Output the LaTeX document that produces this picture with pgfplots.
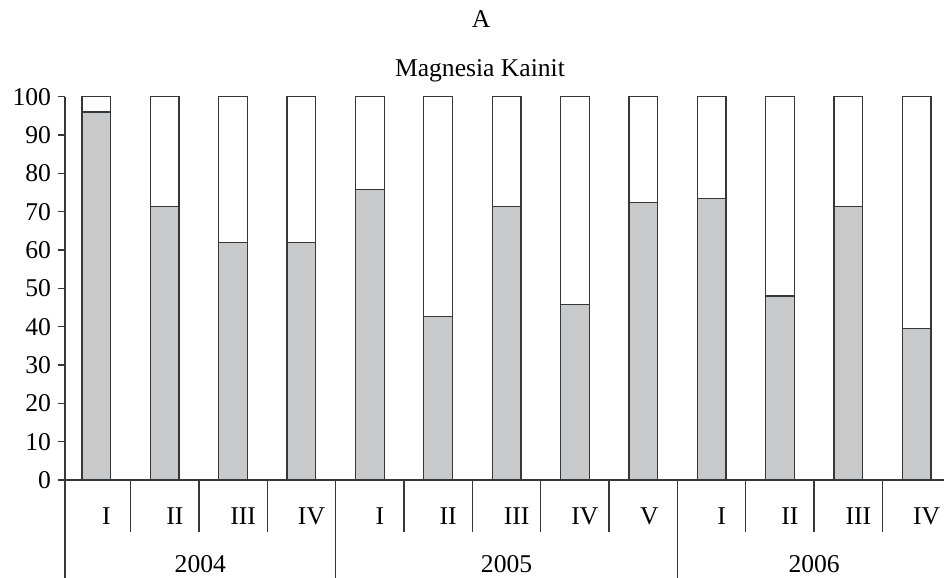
\documentclass[border=0pt]{standalone}
\usepackage{fontspec}
\setmainfont{LiberationSerif}[Extension=.ttf, UprightFont=*-Regular, BoldFont=*-Bold]
\usepackage{pgfplots}
\usepackage{pgfplotstable}
\pgfplotsset{compat=1.18}

\definecolor{barfill}{RGB}{200,201,203}
\definecolor{barline}{RGB}{55,55,55}

% share of magnesia kainit per sampling round (grey) and remainder to 100 (white)
\pgfplotstableread{
x  grey  rest
0  96.0  4.0
1  71.3  28.7
2  62.0  38.0
3  62.0  38.0
4  75.7  24.3
5  42.6  57.4
6  71.3  28.7
7  45.8  54.2
8  72.4  27.6
9  73.4  26.6
10 48.0  52.0
11 71.3  28.7
12 39.5  60.5
}\datatable

\newcommand{\lbl}{\fontsize{12.8}{15}\selectfont}

\begin{document}
\begin{tikzpicture}
\useasboundingbox (-32.5pt,-49pt) rectangle (439.5pt,240pt);
\clip (-32.5pt,-49pt) rectangle (439.5pt,240pt);
\begin{axis}[
  at={(0,0)}, anchor=south west,
  scale only axis,
  width=439.5pt, height=191.65pt,
  xmin=-0.46, xmax=12.4,
  ymin=0, ymax=100,
  axis lines=left,
  axis line style={-, barline, line width=0.65pt},
  xtick=\empty,
  ytick={0,10,...,100},
  ytick align=outside,
  major tick length=3.5pt,
  ytick style={barline, line width=0.65pt},
  tick label style={font=\lbl},
  /pgf/number format/assume math mode=true,
  ybar stacked,
  bar width=0.42,
  clip=false,
]
\addplot[fill=barfill, draw=barline, line width=0.65pt] table[x=x, y=grey] {\datatable};
\addplot[fill=white, draw=barline, line width=0.65pt] table[x=x, y=rest] {\datatable};

% category separators below the axis
\pgfplotsinvokeforeach{0.5,1.5,2.5,4.5,5.5,6.5,7.5,9.5,10.5,11.5}{
  \draw[barline, line width=0.65pt] (axis cs:#1,0) -- ++(0pt,-26pt);
}
\pgfplotsinvokeforeach{-0.46,3.5,8.5}{
  \draw[barline, line width=0.65pt] (axis cs:#1,0) -- ++(0pt,-60pt);
}

% quarter labels
\node[font=\lbl, anchor=base, inner sep=0pt] at ([xshift=5pt,yshift=-22.5pt]axis cs:0,0) {I};
\node[font=\lbl, anchor=base, inner sep=0pt] at ([xshift=5pt,yshift=-22.5pt]axis cs:1,0) {II};
\node[font=\lbl, anchor=base, inner sep=0pt] at ([xshift=5pt,yshift=-22.5pt]axis cs:2,0) {III};
\node[font=\lbl, anchor=base, inner sep=0pt] at ([xshift=5pt,yshift=-22.5pt]axis cs:3,0) {IV};
\node[font=\lbl, anchor=base, inner sep=0pt] at ([xshift=5pt,yshift=-22.5pt]axis cs:4,0) {I};
\node[font=\lbl, anchor=base, inner sep=0pt] at ([xshift=5pt,yshift=-22.5pt]axis cs:5,0) {II};
\node[font=\lbl, anchor=base, inner sep=0pt] at ([xshift=5pt,yshift=-22.5pt]axis cs:6,0) {III};
\node[font=\lbl, anchor=base, inner sep=0pt] at ([xshift=5pt,yshift=-22.5pt]axis cs:7,0) {IV};
\node[font=\lbl, anchor=base, inner sep=0pt] at ([xshift=3pt,yshift=-22.5pt]axis cs:8,0) {V};
\node[font=\lbl, anchor=base, inner sep=0pt] at ([xshift=5pt,yshift=-22.5pt]axis cs:9,0) {I};
\node[font=\lbl, anchor=base, inner sep=0pt] at ([xshift=5pt,yshift=-22.5pt]axis cs:10,0) {II};
\node[font=\lbl, anchor=base, inner sep=0pt] at ([xshift=5pt,yshift=-22.5pt]axis cs:11,0) {III};
\node[font=\lbl, anchor=base, inner sep=0pt] at ([xshift=5pt,yshift=-22.5pt]axis cs:12,0) {IV};

% year labels
\node[font=\lbl, anchor=base, inner sep=0pt] at ([yshift=-46.5pt]axis cs:1.52,0) {2004};
\node[font=\lbl, anchor=base, inner sep=0pt] at ([yshift=-46.5pt]axis cs:6,0) {2005};
\node[font=\lbl, anchor=base, inner sep=0pt] at ([yshift=-46.5pt]axis cs:10.5,0) {2006};
\end{axis}

% titles
\node[font=\lbl, anchor=base, inner sep=0pt] at (208pt,226pt) {A};
\node[font=\lbl, anchor=base, inner sep=0pt] at (207.5pt,201.5pt) {Magnesia Kainit};
\end{tikzpicture}
\end{document}
